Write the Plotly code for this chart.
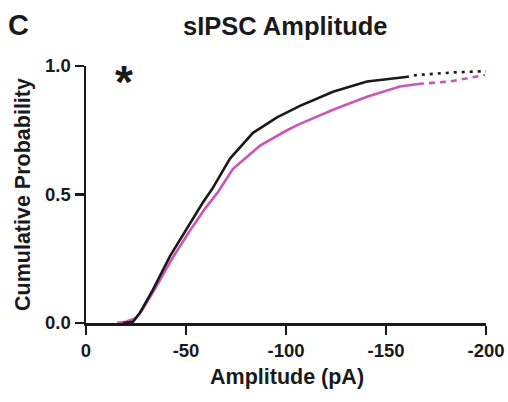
import plotly.graph_objects as go

# Control (black) cumulative curve
black_amp = [-18.5, -23.5, -27, -33.5, -42, -50.5, -58.5, -63, -72, -83.5, -95.5, -107, -123.5, -140.5, -160]
black_p = [0.0, 0.005, 0.04, 0.13, 0.26, 0.37, 0.47, 0.52, 0.64, 0.74, 0.80, 0.845, 0.90, 0.94, 0.957]
black_tail_amp = [-160, -165.5, -183.5, -200]
black_tail_p = [0.957, 0.965, 0.975, 0.98]

# Treatment (magenta) cumulative curve
mag_amp = [-15.5, -20, -25, -28, -35, -43, -52, -60, -66, -73.5, -87, -100.5, -107, -117, -123.5, -140.5, -157, -166]
mag_p = [0.0, 0.005, 0.02, 0.05, 0.14, 0.25, 0.36, 0.45, 0.51, 0.60, 0.69, 0.75, 0.775, 0.81, 0.83, 0.88, 0.92, 0.93]
mag_tail_amp = [-166, -182, -199.5]
mag_tail_p = [0.93, 0.94, 0.965]

x_ticks = [0, -50, -100, -150, -200]
x_ticktext = ["0", "-50", "-100", "-150", "-200"]
y_ticks = [0, 0.5, 1.0]
y_ticktext = ["0.0", "0.5", "1.0"]

BLACK = "#1a1a1a"
MAG = "#cc55b8"
FONT = "Liberation Sans, Arial, sans-serif"

W, H = 508, 402
PL, PT, PR, PB = 86, 66, 486, 323   # plot rectangle in page pixels
L, T, R, B = PL, PT, W - PR, H - PB
PW, PH = PR - PL, PB - PT


def px(x):
    return (x - PL) / PW


def py(y):
    return (PB - y) / PH


fig = go.Figure()
fig.add_trace(go.Scatter(x=mag_amp, y=mag_p, mode="lines", line=dict(color=MAG, width=2.6)))
fig.add_trace(go.Scatter(x=mag_tail_amp, y=mag_tail_p, mode="lines",
                         line=dict(color=MAG, width=2.6, dash="6px,5px")))
fig.add_trace(go.Scatter(x=black_amp, y=black_p, mode="lines", line=dict(color=BLACK, width=2.6)))
fig.add_trace(go.Scatter(x=black_tail_amp, y=black_tail_p, mode="lines",
                         line=dict(color=BLACK, width=2.6, dash="3px,5px")))

axis_common = dict(showline=True, linecolor=BLACK, linewidth=2.5, ticks="outside", ticklen=9, tickwidth=2.5,
                   tickcolor=BLACK, showgrid=False, zeroline=False, automargin=False,
                   ticklabeloverflow="allow",
                   tickfont=dict(size=18.5, family=FONT, color=BLACK))

fig.update_layout(
    width=W, height=H,
    margin=dict(l=L, r=R, t=T, b=B),
    paper_bgcolor="white", plot_bgcolor="white",
    showlegend=False,
    font=dict(family=FONT, color=BLACK, size=14),
    xaxis=dict(range=[0, -200], tickvals=x_ticks, ticktext=["<b>%s</b>" % t for t in x_ticktext], **axis_common),
    yaxis=dict(range=[0, 1.0], tickvals=y_ticks, ticktext=["<b>%s</b>" % t for t in y_ticktext], **axis_common),
)

# panel letter
fig.add_annotation(text="<b>C</b>", xref="paper", yref="paper", x=px(6), y=py(25), xanchor="left",
                   yanchor="middle", showarrow=False, font=dict(size=29, family=FONT, color=BLACK))
# title
fig.add_annotation(text="<b>sIPSC Amplitude</b>", xref="paper", yref="paper", x=px(285.5), y=py(26),
                   xanchor="center", yanchor="middle", showarrow=False,
                   font=dict(size=25.5, family=FONT, color=BLACK))
# x axis title
fig.add_annotation(text="<b>Amplitude (pA)</b>", xref="paper", yref="paper", x=px(286.5), y=py(377),
                   xanchor="center", yanchor="middle", showarrow=False,
                   font=dict(size=21.5, family=FONT, color=BLACK))
# y axis title
fig.add_annotation(text="<b>Cumulative Probability</b>", xref="paper", yref="paper", x=px(23), y=py(195),
                   xanchor="center", yanchor="middle", textangle=-90, showarrow=False,
                   font=dict(size=21.5, family=FONT, color=BLACK))
# significance star
fig.add_annotation(text="<b>*</b>", xref="paper", yref="paper", x=px(124), y=py(82),
                   xanchor="center", yanchor="middle", showarrow=False,
                   font=dict(size=46, family=FONT, color=BLACK))

fig.write_html("out.html",
               config={"displayModeBar": False, "staticPlot": True},
               post_script="document.body.style.margin='0';document.documentElement.style.overflow='hidden';")
